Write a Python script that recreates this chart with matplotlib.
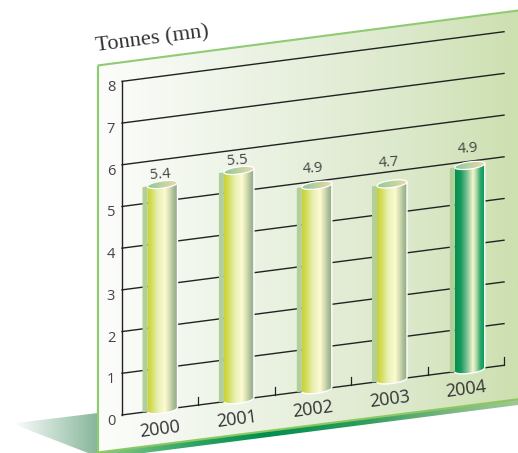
import numpy as np
import matplotlib
matplotlib.use("Agg")
import matplotlib.pyplot as plt
from matplotlib.colors import LinearSegmentedColormap as LSC
from matplotlib.patches import PathPatch, Polygon
from matplotlib.path import Path
from matplotlib.transforms import Affine2D

# Data
years = ["2000", "2001", "2002", "2003", "2004"]
tonnes = [5.4, 5.5, 4.9, 4.7, 4.9]
y_ticks = [0, 1, 2, 3, 4, 5, 6, 7, 8]
unit_label = "Tonnes (mn)"

# Sheared chart space: category index and value map to canvas pixels
X0, Y0, UX, UY, SLOPE = 160.2, 410.0, 76.4, 41.7, 9.93
W, H = 518, 453

fig = plt.figure(figsize=(W / 100, H / 100), dpi=100)
ax = fig.add_axes([0, 0, 1, 1])
ax.set_xlim(0, W)
ax.set_ylim(H, 0)
ax.axis("off")

shear = Affine2D(np.array([[UX, 0, X0], [-SLOPE, -UY, Y0], [0, 0, 1]]))
chart = shear + ax.transData
ANGLE = np.degrees(np.arctan(SLOPE / UX))


def gradient(colors, x0, x1, y0, y1, clip, z):
    """Paint a horizontal colour ramp clipped to a patch."""
    cmap = LSC.from_list("ramp", colors)
    im = ax.imshow(np.linspace(0, 1, 300)[None, :], cmap=cmap, aspect="auto",
                   extent=(x0, x1, y1, y0), interpolation="bilinear", zorder=z)
    im.set_clip_path(clip)
    return im


# Ground shadow
ground = Polygon([(12, 423.5), (98, 413), (98, 453), (88, 453)], transform=ax.transData)
gradient([(0, "#ffffff"), (1, "#86b69a")], 12, 98, 410, 453, ground, 1)

# Slanted bottom edge of the board
edge = Polygon([(97, 452), (518, 399), (518, 405), (97, 459)], transform=ax.transData)
gradient([(0, "#8cc98a"), (0.22, "#2fa566"), (0.4, "#008f50"), (0.62, "#2a9c5e"),
          (0.85, "#7db880"), (1, "#a0c794")], 97, 518, 395, 460, edge, 1.5)

# Board
board_xy = [(97.5, 65.5), (518, 10.5), (518, 399), (97.5, 452.5)]
board = Polygon(board_xy, transform=ax.transData)
gradient([(0, "#fcfdfb"), (0.25, "#f1f6ec"), (0.5, "#e6efdb"), (0.75, "#dbe8c9"),
          (1, "#cde0b0")], 97.5, 518, 10, 453, board, 2)
ax.plot([97.5, 97.5], [452.5, 65.5], color="#8fcb72", lw=1.6, zorder=3, solid_capstyle="butt")
ax.plot([97.5, 518], [65.5, 10.5], color="#8fcb72", lw=1.5, zorder=3, solid_capstyle="butt")
ax.plot([97.5, 518], [452.5, 399.3], color="#8cc860", lw=1.5, zorder=3, solid_capstyle="butt")

# Grid, axes and ticks
x_left, x_right = -0.5, 4.5
for v in y_ticks:
    ax.plot([x_left, x_right], [v, v], color="#222222", lw=1.0, transform=chart, zorder=4)
    ax.annotate(str(v), xy=(x_left, v), xycoords=chart, xytext=(-11, -6.5),
                textcoords="offset pixels", ha="center", va="center", fontsize=10.5,
                family="Open Sans", color="#444444", zorder=8)
ax.plot([x_left, x_left], [0, 8], color="#222222", lw=1.0, transform=chart, zorder=4)
for e in np.arange(x_left + 1, x_right + 0.5):
    ax.plot([e, e], [0, 0.2], color="#222222", lw=0.9, transform=chart, zorder=4)

# Cylinders
half_w = 15 / UX
shadow_w = 5 / UX
cap_h = 3.6 / UY
bar_shift = [0.03, 0.03, 0.05, 0.034, 0.052]
label_dx = [-2.5, -2, -4, -3, -2]
label_dy = [9.5, 9.5, 16.5, 21.5, 16.5]
pale_ramp = [(0, "#c9d233"), (0.14, "#d4dc58"), (0.35, "#e7efaf"), (0.6, "#fdfbd2"),
             (0.75, "#d6deb2"), (0.9, "#a5ba94"), (1, "#8fae8a")]
dark_ramp = [(0, "#00914f"), (0.2, "#1b9a5d"), (0.42, "#86c79c"), (0.6, "#f9f6c9"),
             (0.72, "#a9d7a7"), (0.85, "#2fa86c"), (1, "#009b59")]
cap_ramp = [(0, "#8cc99b"), (0.5, "#bdd2a0"), (1, "#e9d9ad")]
arc = np.linspace(0, np.pi, 40)

for i, (year, val) in enumerate(zip(years, tonnes)):
    cx = i + bar_shift[i]
    # Offset strip on the left of the cylinder
    strip = Polygon([(cx - half_w - shadow_w, 0), (cx - half_w, 0),
                     (cx - half_w, val), (cx - half_w - shadow_w, val)],
                    transform=chart, facecolor="#b0cf9b", edgecolor="none", zorder=5)
    ax.add_patch(strip)

    # Body: straight sides, rounded lower rim
    low = np.column_stack([cx - half_w * np.cos(arc), -cap_h * np.sin(arc)])
    top = np.column_stack([cx + half_w * np.cos(arc), np.full_like(arc, val)])
    body_xy = np.vstack([low, top])
    body = PathPatch(Path(body_xy), transform=chart, facecolor="none", edgecolor="white",
                     lw=1.0, zorder=6.5)
    ax.add_patch(body)
    left_px = shear.transform([(cx - half_w, 0)])[0][0]
    right_px = shear.transform([(cx + half_w, 0)])[0][0]
    ramp = dark_ramp if i == len(years) - 1 else pale_ramp
    gradient(ramp, left_px, right_px, 0, H, body, 6)

    # Elliptical cap
    ring = np.linspace(0, 2 * np.pi, 80)
    cap_xy = np.column_stack([cx + half_w * np.cos(ring), val + cap_h * np.sin(ring)])
    cap = PathPatch(Path(cap_xy), transform=chart, facecolor="none", edgecolor="white",
                    lw=0.9, zorder=7.5)
    ax.add_patch(cap)
    gradient(cap_ramp, left_px, right_px, 0, H, cap, 7)

    # Value above the cap
    ax.annotate(f"{val}", xy=(cx, val), xycoords=chart, xytext=(label_dx[i], label_dy[i]),
                textcoords="offset pixels", ha="center", va="center", fontsize=10.5,
                family="Open Sans", color="#444444", rotation=4, zorder=8)
    # Year below the axis
    ax.annotate(year, xy=(i, 0), xycoords=chart, xytext=(0, -19),
                textcoords="offset pixels", ha="center", va="center", fontsize=13,
                family="Open Sans", color="#333333", rotation=ANGLE,
                rotation_mode="anchor", zorder=8)

# Unit caption above the board
ax.text(96, 52, unit_label, family="Liberation Serif", fontsize=16.2, color="#333333",
        rotation=ANGLE, rotation_mode="anchor", ha="left", va="baseline", zorder=8)

ax.set_xlim(0, W)
ax.set_ylim(H, 0)
fig.savefig("out.png", dpi=100)
